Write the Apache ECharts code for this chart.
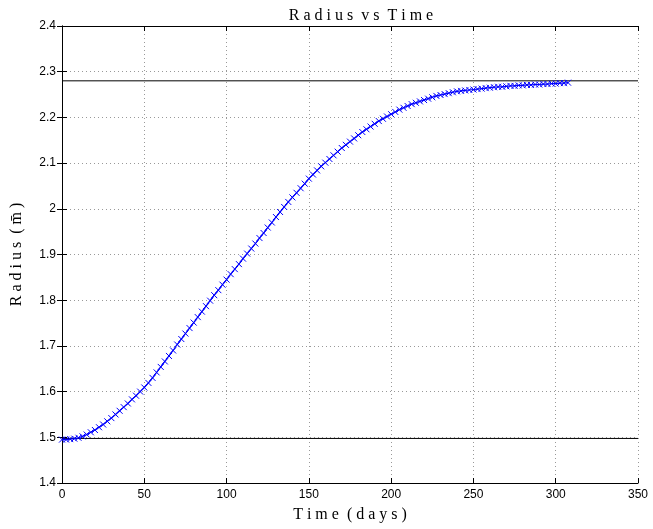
<!DOCTYPE html>
<html><head><meta charset="utf-8">
<script src="https://cdn.jsdelivr.net/npm/echarts@6/dist/echarts.min.js"></script>
<style>html,body{margin:0;padding:0;background:#fff}#c{width:653px;height:529px}</style>
</head><body><div id="c"></div>
<script>
const timeDays = [0,2.5,5,7.5,10,12.5,15,17.5,20,22.5,25,27.5,30,32.5,35,37.5,40,42.5,45,47.5,50,52.5,55,57.5,60,62.5,65,67.5,70,72.5,75,77.5,80,82.5,85,87.5,90,92.5,95,97.5,100,102.5,105,107.5,110,112.5,115,117.5,120,122.5,125,127.5,130,132.5,135,137.5,140,142.5,145,147.5,150,152.5,155,157.5,160,162.5,165,167.5,170,172.5,175,177.5,180,182.5,185,187.5,190,192.5,195,197.5,200,202.5,205,207.5,210,212.5,215,217.5,220,222.5,225,227.5,230,232.5,235,237.5,240,242.5,245,247.5,250,252.5,255,257.5,260,262.5,265,267.5,270,272.5,275,277.5,280,282.5,285,287.5,290,292.5,295,297.5,300,302.5,305,307.5];
const radius = [1.495,1.495,1.496,1.497,1.499,1.502,1.506,1.511,1.516,1.522,1.528,1.535,1.542,1.550,1.558,1.566,1.574,1.583,1.591,1.600,1.609,1.619,1.630,1.642,1.654,1.666,1.678,1.690,1.703,1.715,1.727,1.739,1.751,1.763,1.775,1.787,1.799,1.811,1.822,1.834,1.845,1.857,1.868,1.879,1.891,1.902,1.913,1.924,1.936,1.947,1.959,1.970,1.982,1.993,2.004,2.015,2.025,2.035,2.045,2.055,2.066,2.075,2.084,2.093,2.101,2.109,2.117,2.125,2.133,2.140,2.147,2.154,2.161,2.168,2.174,2.180,2.186,2.192,2.197,2.202,2.207,2.212,2.217,2.221,2.225,2.229,2.232,2.235,2.238,2.241,2.244,2.247,2.249,2.251,2.253,2.255,2.257,2.258,2.259,2.260,2.261,2.262,2.263,2.264,2.265,2.266,2.267,2.267,2.268,2.269,2.269,2.270,2.270,2.271,2.271,2.272,2.272,2.273,2.273,2.274,2.274,2.275,2.275,2.276];
const upperRadius = 2.28;
const lowerRadius = 1.4975;
const xTicks = [0,50,100,150,200,250,300,350];
const yTicks = [1.4,1.5,1.6,1.7,1.8,1.9,2,2.1,2.2,2.3,2.4];

const chart = echarts.init(document.getElementById('c'));
const pts = timeDays.map((t,i)=>[t,radius[i]]);
const sans = 'Liberation Sans';
const serif = 'Liberation Serif';
const baseAxis = {
  axisLine:{show:true,lineStyle:{color:'#000',width:1}},
  axisTick:{show:true,inside:true,length:5,lineStyle:{color:'#000'}},
};
chart.setOption({
  animation:false,
  backgroundColor:'#fff',
  title:{text:'R a d i u s  v s  T i m e',left:356,top:3,textAlign:'center',
    textStyle:{fontFamily:serif,fontWeight:'normal',fontSize:16,color:'#000'}},
  grid:{left:62,right:15,top:26,bottom:46,show:false},
  xAxis:[
    Object.assign({type:'value',min:0,max:350,interval:50,position:'bottom',
      name:'T i m e  ( d a y s )',nameLocation:'middle',nameGap:24,
      nameTextStyle:{fontFamily:serif,fontSize:16,color:'#000'},
      axisLabel:{fontFamily:sans,fontSize:12,color:'#000',margin:6},
      splitLine:{show:true,lineStyle:{color:'#999',type:[1,3],width:1}}},baseAxis),
    Object.assign({type:'value',min:0,max:350,interval:50,position:'top',
      axisLabel:{show:false},splitLine:{show:false}},baseAxis)
  ],
  yAxis:[
    Object.assign({type:'value',min:1.4,max:2.4,interval:0.1,position:'left',
      name:'R a d i u s  ( m̄ )',nameLocation:'middle',nameGap:37,nameRotate:90,
      nameTextStyle:{fontFamily:serif,fontSize:16,color:'#000'},
      axisLabel:{fontFamily:sans,fontSize:12,color:'#000',margin:6,
        formatter:v=>String(Math.round(v*10)/10)},
      splitLine:{show:true,lineStyle:{color:'#999',type:[1,3],width:1}}},baseAxis),
    Object.assign({type:'value',min:1.4,max:2.4,interval:0.1,position:'right',
      axisLabel:{show:false},splitLine:{show:false}},baseAxis)
  ],
  series:[
    {type:'line',data:[[0,upperRadius],[350,upperRadius]],symbol:'none',
      lineStyle:{color:'#000',width:1},silent:true,z:3},
    {type:'line',data:[[0,lowerRadius],[350,lowerRadius]],symbol:'none',
      lineStyle:{color:'#000',width:1},silent:true,z:3},
    {type:'line',data:pts,symbol:'path://M0,0L10,10M10,0L0,10',symbolSize:6,
      showAllSymbol:true,
      itemStyle:{color:'none',borderColor:'#0000ff',borderWidth:1},
      lineStyle:{color:'#0000ff',width:1.2},z:4}
  ]
});
</script></body></html>
